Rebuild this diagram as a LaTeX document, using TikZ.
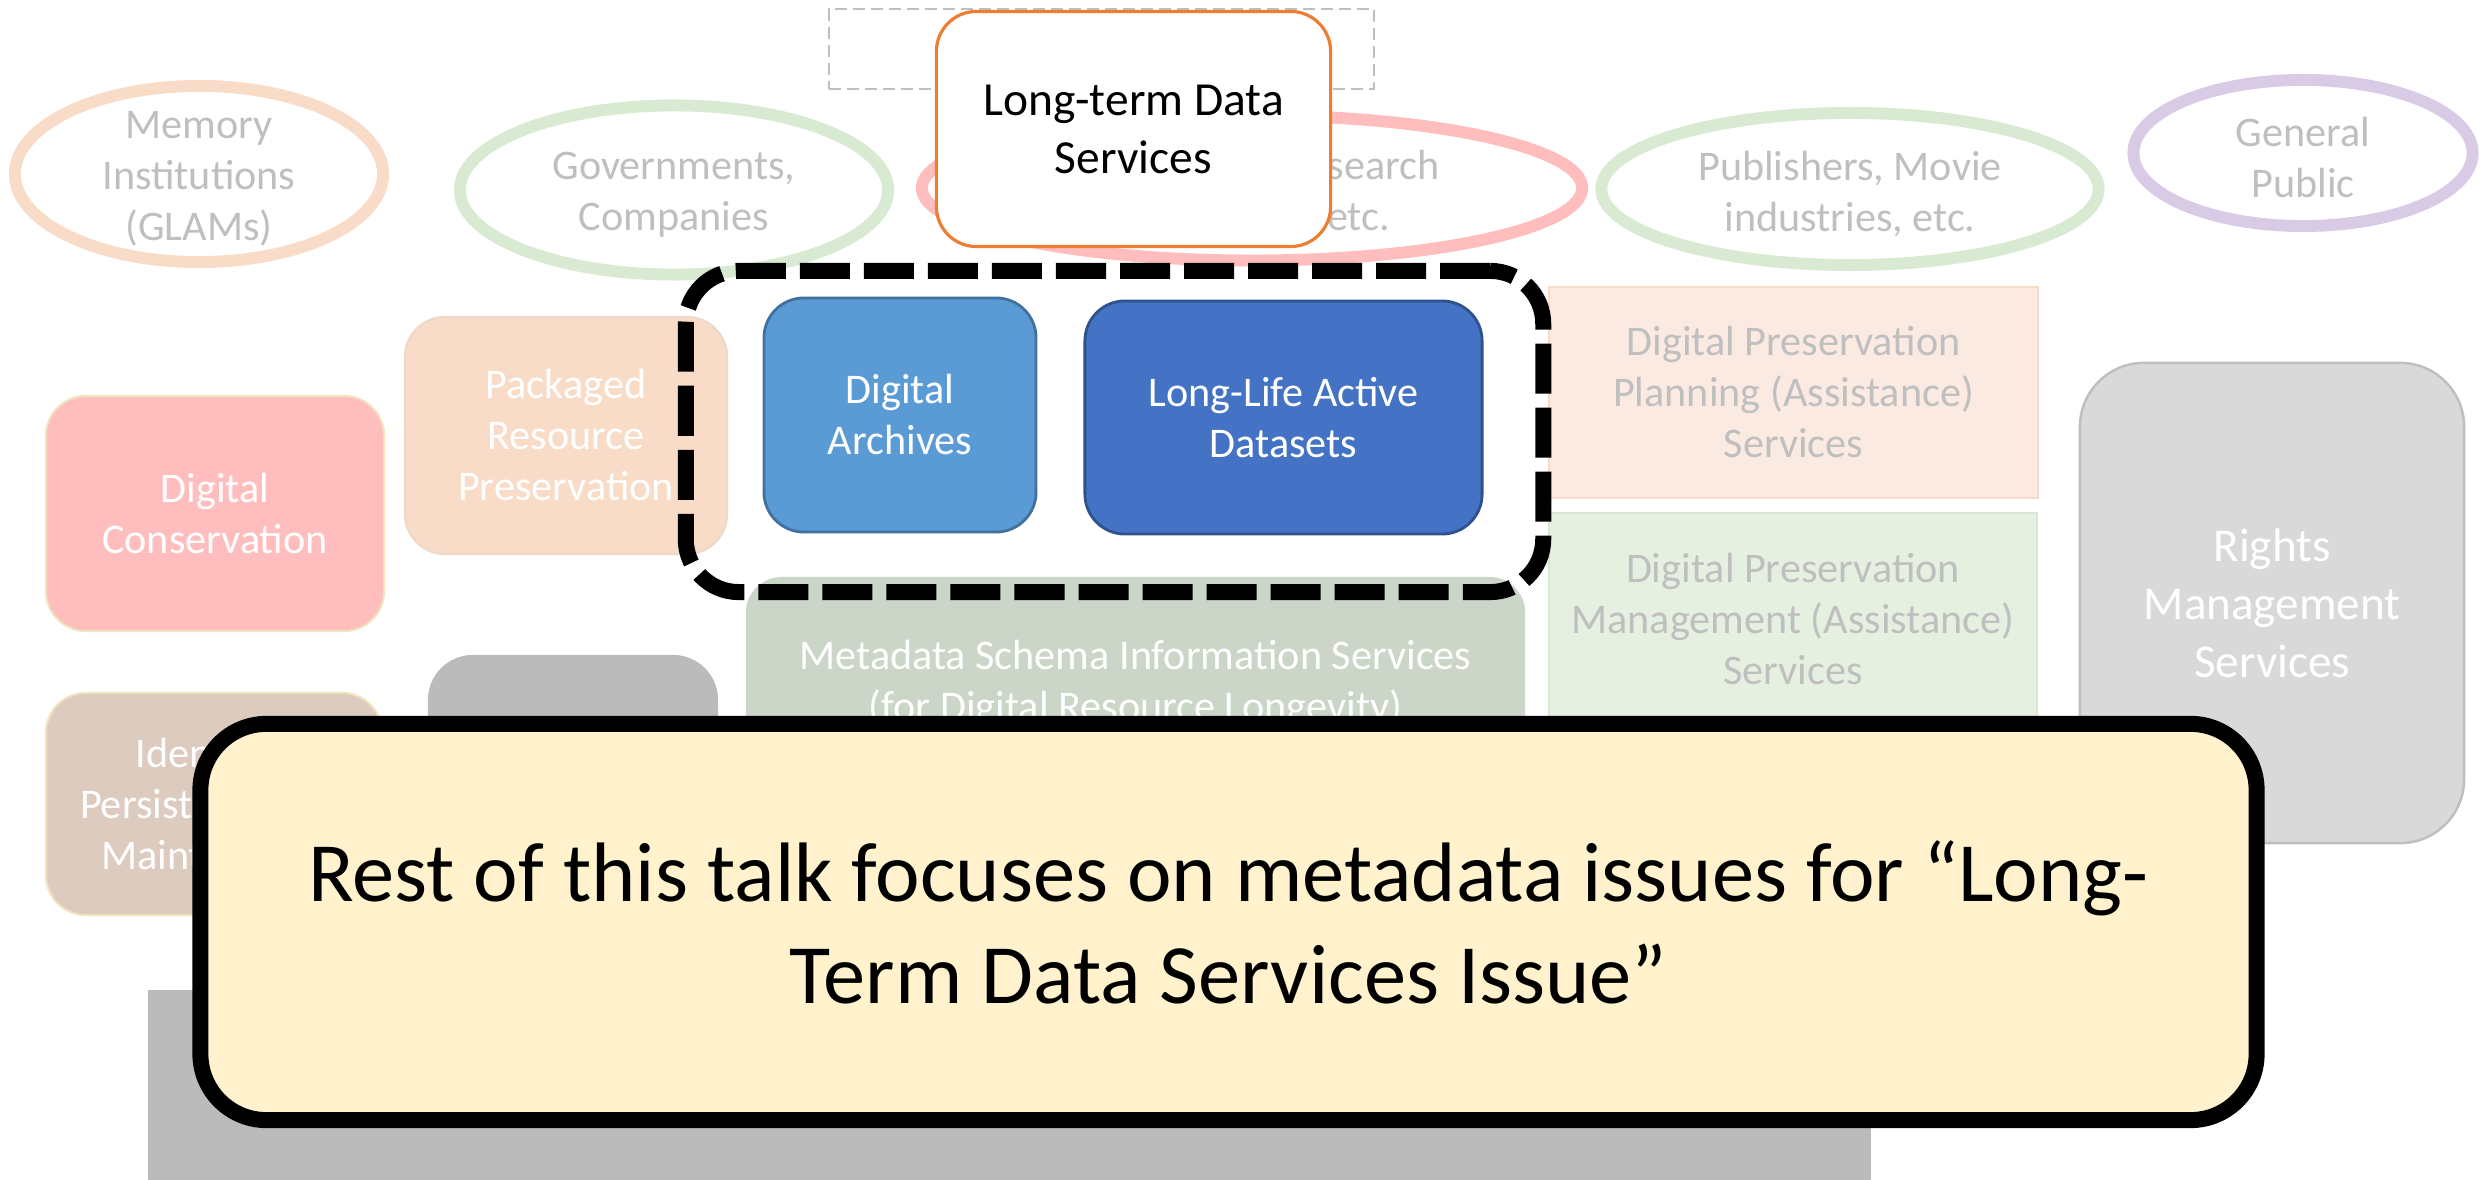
\documentclass[tikz,border=0pt]{standalone}
\usepackage{fontspec}
\setmainfont{Carlito}
\usetikzlibrary{shapes.geometric}
\definecolor{txtgray}{HTML}{BFBFBF}
\definecolor{ringpeach}{HTML}{F8DCC8}
\definecolor{ringgreen}{HTML}{D9EAD3}
\definecolor{ringpink}{HTML}{FFBDBD}
\definecolor{ringlav}{HTML}{D9CBE6}
\definecolor{ltorange}{HTML}{ED7D31}
\definecolor{peachfill}{HTML}{F8DCC8}
\definecolor{peachline}{HTML}{EED8CA}
\definecolor{pinkfill}{HTML}{FFBDBD}
\definecolor{paleline}{HTML}{F0E3C0}
\definecolor{brownfill}{HTML}{DCCBBE}
\definecolor{midgray}{HTML}{BBBBBB}
\definecolor{metafill}{HTML}{CBD5C8}
\definecolor{planfill}{HTML}{FBEAE2}
\definecolor{planline}{HTML}{F9DCC8}
\definecolor{mgmtfill}{HTML}{E6F0E0}
\definecolor{mgmtline}{HTML}{D8E8D0}
\definecolor{rightsfill}{HTML}{D9D9D9}
\definecolor{archfill}{HTML}{5B9BD5}
\definecolor{archline}{HTML}{41719C}
\definecolor{lladfill}{HTML}{4472C4}
\definecolor{lladline}{HTML}{2F528F}
\definecolor{callfill}{HTML}{FFF2CC}
\begin{document}
\begin{tikzpicture}[x=0.01cm,y=-0.01cm,
  smallfont/.style={font=\fontsize{12}{14.5}\selectfont},
  ring/.style={ellipse, draw, line width=3.4pt, inner sep=0pt},
  ringtext/.style={inner sep=0pt, align=center, text=txtgray, smallfont, yshift=-0.05cm},
  box/.style={rectangle, inner sep=0pt, align=center, smallfont, line width=0.6pt},
  rbox/.style={box, rounded corners=0.4cm},
]
\useasboundingbox (0,0) rectangle (2484,1180);

% dashed gray placeholder
\node[draw=txtgray, line width=0.7pt, dash pattern=on 0.12cm off 0.06cm,
      minimum width=5.45cm, minimum height=0.8cm, inner sep=0pt] (ph) at (1101.5,49) {};

% stakeholder ellipses
\node[ring, draw=ringpeach, minimum width=3.68cm, minimum height=1.76cm] (mem) at (199,174) {};
\node[ringtext] (memt) at (mem) {Memory\\Institutions\\(GLAMs)};
\node[ring, draw=ringgreen, minimum width=4.28cm, minimum height=1.69cm] (gov) at (674,190) {};
\node[ringtext] (govt) at (gov) {Governments,\\Companies};
\node[ring, draw=ringpink, minimum width=6.6cm, minimum height=1.45cm] (res) at (1252,188) {};
\node[ringtext] (rest) at (res) {Universities, Research\\Institutions, etc.};
\node[ring, draw=ringgreen, minimum width=4.97cm, minimum height=1.52cm] (pub) at (1850,189) {};
\node[ringtext] (pubt) at (pub) {Publishers, Movie\\industries, etc.};
\node[ring, draw=ringlav, minimum width=3.39cm, minimum height=1.46cm] (gen) at (2303,153) {};
\node[ringtext] (gent) at (gen) {General\\Public};

% long-term data services
\node[rbox, draw=ltorange, fill=white, line width=0.9pt, minimum width=3.94cm, minimum height=2.35cm,
      font=\fontsize{13.5}{16.5}\selectfont] (ltds) at (1133.5,129) {Long-term Data\\Services};

% service boxes
\node[rbox, draw=peachline, fill=peachfill, text=white, minimum width=3.22cm, minimum height=2.37cm]
  (pack) at (566,435.5) {Packaged\\Resource\\Preservation};
\node[rbox, draw=paleline, fill=pinkfill, text=white, minimum width=3.38cm, minimum height=2.35cm]
  (cons) at (215,513.5) {Digital\\Conservation};
\node[rbox, draw=paleline, fill=brownfill, text=white, minimum width=3.36cm, minimum height=2.22cm]
  (ident) at (214,804) {Identifier\\Persistence and\\Maintenance};
\node[rbox, fill=midgray, rounded corners=0.45cm, minimum width=2.9cm, minimum height=2.7cm]
  (grayb) at (573,790) {};
\node[rbox, fill=metafill, text=white, rounded corners=0.36cm, minimum width=7.79cm, minimum height=2.14cm]
  (meta) at (1135.5,684) {Metadata Schema Information Services\\(for Digital Resource Longevity)};
\node[box, draw=planline, fill=planfill, text=txtgray, minimum width=4.89cm, minimum height=2.11cm]
  (plan) at (1793.5,392.5) {Digital Preservation\\Planning (Assistance)\\Services};
\node[box, draw=mgmtline, fill=mgmtfill, text=txtgray, minimum width=4.88cm, minimum height=2.11cm]
  (mgmt) at (1793,619) {Digital Preservation\\Management (Assistance)\\Services};
\node[rbox, draw=txtgray, fill=rightsfill, text=white, rounded corners=0.64cm, line width=0.7pt,
      minimum width=3.84cm, minimum height=4.8cm, font=\fontsize{13.4}{16.5}\selectfont]
  (rights) at (2272,603) {Rights\\Management\\Services};
\node[rbox, draw=archline, fill=archfill, text=white, line width=0.8pt, minimum width=2.72cm, minimum height=2.34cm]
  (arch) at (900,415) {Digital\\Archives};
\node[rbox, draw=lladline, fill=lladfill, text=white, line width=0.8pt, minimum width=3.97cm, minimum height=2.33cm]
  (llad) at (1283.5,417.5) {Long-Life Active\\Datasets};

% focus frame
\node[draw=black, line width=4.55pt, dash pattern=on 0.5cm off 0.14cm, rounded corners=0.53cm,
      minimum width=8.57cm, minimum height=3.21cm, inner sep=0pt] (focus) at (1114.5,431.5) {};

% bottom gray bar
\node[box, fill=midgray, minimum width=17.22cm, minimum height=1.9cm] (bar) at (1009,1085) {};

% callout
\node[draw=black, fill=callfill, line width=4.55pt, rounded corners=0.66cm, inner sep=0pt,
      minimum width=20.55cm, minimum height=3.96cm, align=center,
      font=\fontsize{24}{29}\selectfont] (call) at (1228.5,922)
  {Rest of this talk focuses on metadata issues for “Long-\\Term Data Services Issue”};
\end{tikzpicture}
\end{document}
